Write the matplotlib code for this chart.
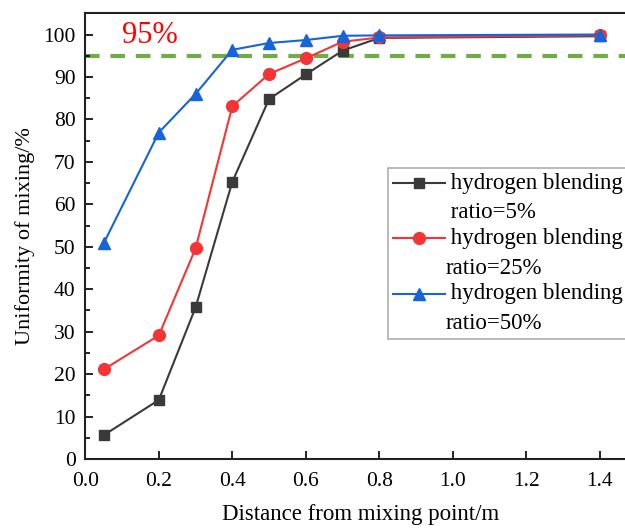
import numpy as np
import matplotlib.pyplot as plt
from matplotlib.ticker import MultipleLocator
from matplotlib.legend_handler import HandlerLine2D

plt.rcParams['font.family'] = ['Liberation Serif', 'DejaVu Serif']

distance = [0.05, 0.2, 0.3, 0.4, 0.5, 0.6, 0.7, 0.8, 1.4]
mix_5 = [5.6, 13.9, 35.7, 65.3, 84.8, 90.6, 96.2, 99.2, 99.6]
mix_25 = [21.1, 29.1, 49.6, 83.1, 90.7, 94.4, 98.3, 99.3, 99.8]
mix_50 = [50.8, 76.9, 86.0, 96.4, 98.0, 98.7, 99.7, 99.8, 100.0]
threshold = 95


class FirstLineHandler(HandlerLine2D):
    # put the legend sample level with the first line of a two-line label
    def create_artists(self, legend, orig_handle, xdescent, ydescent,
                       width, height, fontsize, trans):
        return super().create_artists(legend, orig_handle, xdescent,
                                      ydescent - 1.3 * fontsize, width, height,
                                      fontsize, trans)


fig = plt.figure(figsize=(6.25, 5.31), dpi=100)
# right edge of the axes runs a bit past the canvas, so x=1.5 is cut off
ax = fig.add_axes([85.3/625, 1 - 459/531, 551.3/625, 445.7/531])

ax.plot([0, 1.5], [threshold, threshold], color='#70ad47', lw=3,
        dashes=(3.5, 2.6), solid_capstyle='butt', zorder=1)
l1, = ax.plot(distance, mix_5, color='#3a3a3a', marker='s', ms=7.5, lw=1.5,
              label=' hydrogen blending\n ratio=5%', zorder=3)
l2, = ax.plot(distance, mix_25, color='#f53535', marker='o', ms=8.5, lw=1.5,
              label=' hydrogen blending\nratio=25%', zorder=3)
l3, = ax.plot(distance, mix_50, color='#1763d8', marker='^', ms=9, lw=1.5,
              label=' hydrogen blending\nratio=50%', zorder=3)

ax.text(0.1, 98.1, '95%', color='red', fontsize=22, va='baseline', ha='left')

ax.set_xlim(0, 1.5)
ax.set_ylim(0, 105)
ticks = np.arange(0, 1.41, 0.2)
ax.set_xticks(ticks)
ax.set_xticklabels(['%.1f' % v for v in ticks])
ax.yaxis.set_major_locator(MultipleLocator(10))
ax.yaxis.set_minor_locator(MultipleLocator(5))
ax.tick_params(axis='both', which='both', direction='in', labelsize=15.5,
               top=False, right=False, width=1.2)
ax.tick_params(axis='both', which='major', length=6)
ax.tick_params(axis='y', which='minor', length=3.5)
ax.tick_params(axis='x', pad=9)
ax.tick_params(axis='y', pad=7)
for s in ax.spines.values():
    s.set_linewidth(1.5)
    s.set_color('#222222')

ax.set_xlabel('Distance from mixing point/m', fontsize=16.5, labelpad=10)
ax.set_ylabel('Uniformity of mixing/%', fontsize=16, labelpad=6)

hmap = {h: FirstLineHandler() for h in (l1, l2, l3)}
leg = ax.legend(loc='upper left', bbox_to_anchor=(0.549, 0.653), fontsize=16.5,
                frameon=True, fancybox=False, edgecolor='#999999',
                handlelength=2.3, handletextpad=0.0, borderpad=0.2,
                labelspacing=0.2, borderaxespad=0, handler_map=hmap)
leg.get_frame().set_linewidth(1.2)
for t in leg.get_texts():
    t.set_linespacing(1.55)

fig.savefig('out.png', dpi=100)
